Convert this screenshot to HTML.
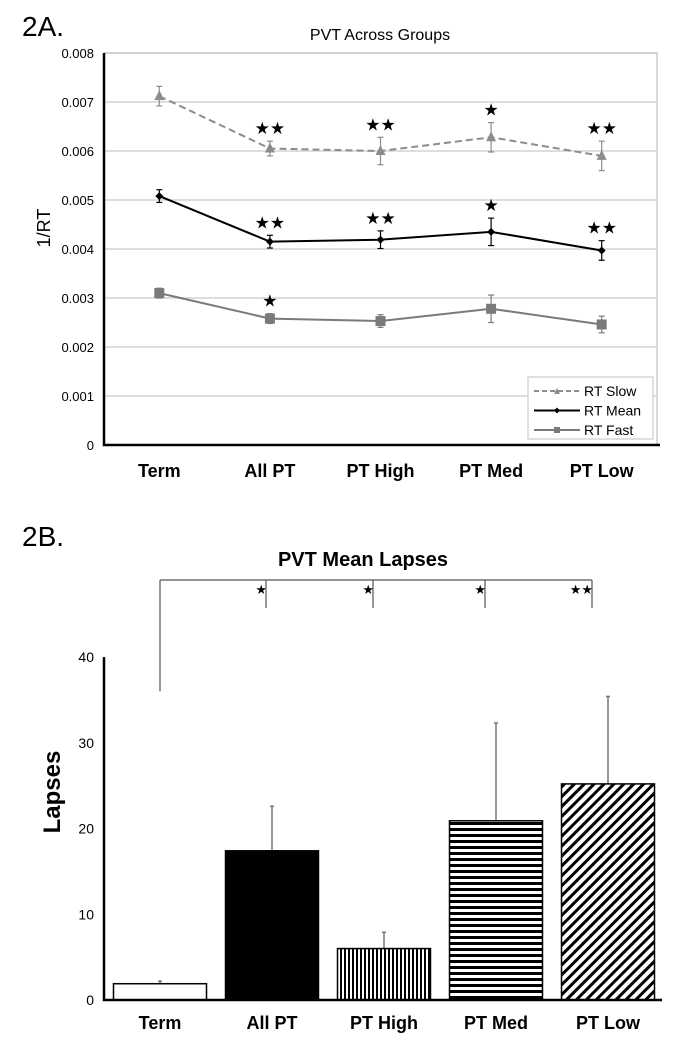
<!DOCTYPE html>
<html><head><meta charset="utf-8"><style>
html,body{margin:0;padding:0;background:#fff;}
svg{display:block;font-family:"Liberation Sans",Arial,sans-serif;}
</style></head><body>
<svg id="fig" width="679" height="1050" viewBox="0 0 679 1050" xmlns="http://www.w3.org/2000/svg">
<defs>
<pattern id="vstripe" width="4" height="4" patternUnits="userSpaceOnUse"><rect width="4" height="4" fill="#fff"/><rect width="2" height="4" fill="#000"/></pattern>
<pattern id="hstripe" width="6" height="6" patternUnits="userSpaceOnUse"><rect width="6" height="6" fill="#fff"/><rect width="6" height="3" fill="#000"/></pattern>
<pattern id="dstripe" width="7" height="7" patternUnits="userSpaceOnUse" patternTransform="rotate(45)"><rect width="7" height="7" fill="#fff"/><rect width="3" height="7" fill="#000"/></pattern>
</defs>
<text x="22" y="36" font-size="28">2A.</text>
<text x="380" y="40" font-size="16" text-anchor="middle">PVT Across Groups</text>
<g id="ca"></g>
<text x="22" y="546" font-size="28">2B.</text>
<text x="363" y="566" font-size="20" font-weight="bold" text-anchor="middle">PVT Mean Lapses</text>
<g id="cb"></g>
</svg>
<script>
const categories=["Term","All PT","PT High","PT Med","PT Low"];
const yTicksA=[0,0.001,0.002,0.003,0.004,0.005,0.006,0.007,0.008];
const slowVals=[0.00712,0.00605,0.0060,0.00628,0.0059];
const slowErr=[0.0002,0.00015,0.00028,0.0003,0.0003];
const meanVals=[0.00508,0.00415,0.00419,0.00435,0.00397];
const meanErr=[0.00013,0.00013,0.00018,0.00028,0.0002];
const fastVals=[0.0031,0.00258,0.00253,0.00278,0.00246];
const fastErr=[0.0001,0.0001,0.00013,0.00028,0.00017];
const slowStars=["","★★","★★","★","★★"];
const meanStars=["","★★","★★","★","★★"];
const fastStars=["","★","","",""];
const yTicksB=[0,10,20,30,40];
const lapseVals=[1.9,17.4,6.0,20.9,25.2];
const lapseErr=[0.3,5.2,1.9,11.4,10.2];
const sigStars=["","★","★","★","★★"];

const NS="http://www.w3.org/2000/svg";
function mk(p,t,a,txt){const e=document.createElementNS(NS,t);for(const k in a)e.setAttribute(k,a[k]);if(txt!==undefined)e.textContent=txt;p.appendChild(e);return e;}

// Chart A
const ca=document.getElementById('ca');
const AL=104,AR=657,AT=53,AB=445;
const xA=i=>AL+(AR-AL)/categories.length*(i+0.5);
const yA=v=>AB-(v/0.008)*(AB-AT);
yTicksA.forEach(t=>{
  if(t>0){const g=mk(ca,'line',{x1:AL,x2:AR,y1:yA(t),y2:yA(t),stroke:'#d4d4d4','stroke-width':1.5});
  
  }
  const l=mk(ca,'text',{x:94,y:yA(t)+5,'font-size':13,'text-anchor':'end'},t===0?'0':t.toFixed(3));
  
  
});
mk(ca,'polyline',{points:`${AL},${AT} ${AR},${AT} ${AR},${AB}`,fill:'none',stroke:'#ccc','stroke-width':1.5});
const axA=mk(ca,'polyline',{points:`${AL},${AT} ${AL},${AB} ${AR+3},${AB}`,fill:'none',stroke:'#000','stroke-width':2.5});


const yl=mk(ca,'text',{x:0,y:0,'font-size':18,'text-anchor':'middle',transform:`translate(50,228) rotate(-90)`},'1/RT');


categories.forEach((c,i)=>{
  const t=mk(ca,'text',{x:xA(i),y:477,'font-size':18,'font-weight':'bold','text-anchor':'middle'},c);
  
  
});
function series(vals,err,stars,color,dash,marker,name){
  const g=mk(ca,'g',{});
  
  
  mk(g,'polyline',{points:vals.map((v,i)=>xA(i)+','+yA(v)).join(' '),fill:'none',stroke:color,'stroke-width':2,'stroke-dasharray':dash});
  vals.forEach((v,i)=>{
    const x=xA(i),y1=yA(v+err[i]),y2=yA(v-err[i]);
    mk(g,'line',{x1:x,x2:x,y1:y1,y2:y2,stroke:color,'stroke-width':1.2});
    mk(g,'line',{x1:x-3,x2:x+3,y1:y1,y2:y1,stroke:color,'stroke-width':1.2});
    mk(g,'line',{x1:x-3,x2:x+3,y1:y2,y2:y2,stroke:color,'stroke-width':1.2});
    const y=yA(v);let m;
    if(marker==='tri')m=mk(g,'path',{d:`M${x-5},${y+4}L${x+5},${y+4}L${x},${y-6}Z`,fill:color});
    else if(marker==='dia')m=mk(g,'path',{d:`M${x-4},${y}L${x},${y-4}L${x+4},${y}L${x},${y+4}Z`,fill:color});
    else m=mk(g,'rect',{x:x-5,y:y-5,width:10,height:10,fill:color});
    
    
    if(stars[i]){const s=mk(g,'text',{x:x,y:y1-7,'font-size':17,'text-anchor':'middle',fill:'#000','font-family':'DejaVu Sans'},stars[i]);
      
      }
  });
}
series(slowVals,slowErr,slowStars,'#8c8c8c','7,4','tri','series-rt-slow');
series(meanVals,meanErr,meanStars,'#000','','dia','series-rt-mean');
series(fastVals,fastErr,fastStars,'#7a7a7a','','sq','series-rt-fast');
// legend
const lg=mk(ca,'g',{});


mk(lg,'rect',{x:528,y:377,width:125,height:62,fill:'#fff',stroke:'#ccc','stroke-width':1.2});
[['RT Slow','#8c8c8c','5,3','tri'],['RT Mean','#000','','dia'],['RT Fast','#7a7a7a','','sq']].forEach((e,k)=>{
  const y=395+k*19.5;
  const it=mk(lg,'g',{});
  
  
  mk(it,'line',{x1:534,x2:580,y1:y-4,y2:y-4,stroke:e[1],'stroke-width':2,'stroke-dasharray':e[2]});
  const x=557,yy=y-4;
  if(e[3]==='tri')mk(it,'path',{d:`M${x-3},${yy+3}L${x+3},${yy+3}L${x},${yy-3}Z`,fill:e[1]});
  else if(e[3]==='dia')mk(it,'path',{d:`M${x-3},${yy}L${x},${yy-3}L${x+3},${yy}L${x},${yy+3}Z`,fill:e[1]});
  else mk(it,'rect',{x:x-3,y:yy-3,width:6,height:6,fill:e[1]});
  mk(it,'text',{x:584,y:y+1,'font-size':14},e[0]);
});

// Chart B
const cb=document.getElementById('cb');
const BL=104,BR=662,BT=657,BB=1000;
const slotB=112;
const xB=i=>160+slotB*i;
const yB=v=>BB-(v/40)*(BB-BT);
const fills=['#fff','#000','url(#vstripe)','url(#hstripe)','url(#dstripe)'];
yTicksB.forEach(t=>{
  const l=mk(cb,'text',{x:94,y:yB(t)+5,'font-size':14,'text-anchor':'end'},String(t));
  
  
});
lapseVals.forEach((v,i)=>{
  const x=xB(i),bw=93;
  const top=yB(v+lapseErr[i]);
  const e=mk(cb,'line',{x1:x,x2:x,y1:top,y2:yB(v),stroke:'#777','stroke-width':1.5});
  
  
  mk(cb,'line',{x1:x-2,x2:x+2,y1:top,y2:top,stroke:'#777','stroke-width':1.5});
  const b=mk(cb,'rect',{x:x-bw/2,y:yB(v),width:bw,height:BB-yB(v),fill:fills[i],stroke:'#000','stroke-width':1.5});
  
  
  const t=mk(cb,'text',{x:x,y:1029,'font-size':18,'font-weight':'bold','text-anchor':'middle'},categories[i]);
  
  
});
const axB=mk(cb,'polyline',{points:`${BL},${BT} ${BL},${BB} ${BR},${BB}`,fill:'none',stroke:'#000','stroke-width':2.5});


const ylb=mk(cb,'text',{x:0,y:0,'font-size':24,'font-weight':'bold','text-anchor':'middle',transform:`translate(60,792) rotate(-90)`},'Lapses');


// significance bracket
const br=mk(cb,'g',{});


const bracketY=580;
mk(br,'line',{x1:xB(0),x2:xB(4)-16,y1:bracketY,y2:bracketY,stroke:'#555','stroke-width':1.2});
mk(br,'line',{x1:xB(0),x2:xB(0),y1:bracketY,y2:yB(36),stroke:'#555','stroke-width':1.2});
sigStars.forEach((s,i)=>{
  if(!s)return;
  const x=xB(i)-6-(i>1?5:0)-(i>3?5:0);
  mk(br,'line',{x1:x,x2:x,y1:bracketY,y2:608,stroke:'#555','stroke-width':1.2});
  const t=mk(br,'text',{x:x+1,y:594,'font-size':13,'text-anchor':'end','font-family':'DejaVu Sans'},s);
  
  
});
</script>
</body></html>
